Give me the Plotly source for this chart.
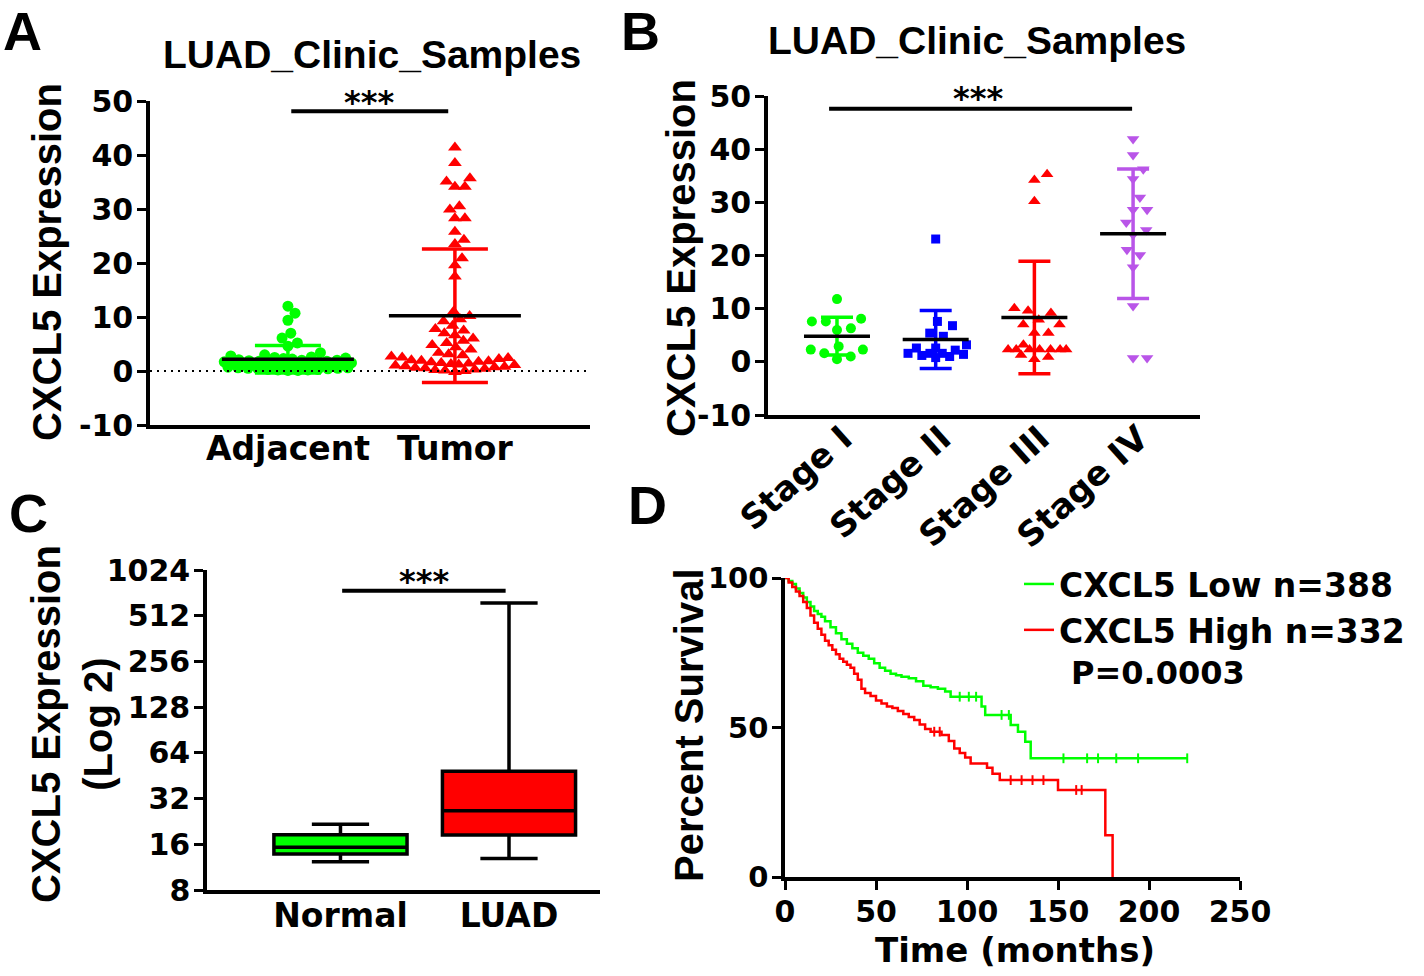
import math
import numpy as np
import plotly.graph_objects as go

# ---------------- data ----------------
# Panel A : CXCL5 expression, adjacent vs tumour
adjacent = [12.0, 10.7, 9.4, 7.0, 6.1, 5.2, 4.6, 3.4, 3.0, 2.8, 2.6, 2.5, 2.4, 2.3, 2.2,
            2.1, 2.0, 2.0, 1.9, 1.8, 1.8, 1.7, 1.6, 1.6, 1.5, 1.5, 1.4, 1.4, 1.3, 1.3,
            1.2, 1.2, 1.1, 1.1, 1.0, 1.0, 0.9, 0.9, 0.8, 0.8, 0.7, 0.7, 0.6, 0.6, 0.5,
            0.5, 0.4, 0.4, 0.3, 0.3, 0.2, 0.2, 0.1, 0.1]
tumor = [41.4, 38.5, 35.7, 35.1, 34.1, 34.1, 30.5, 29.9, 28.3, 28.3, 25.8, 24.3, 23.5,
         20.9, 19.6, 17.5,
         11.0, 10.2, 9.6, 9.2, 8.4, 7.8, 7.5, 7.0, 6.6, 6.0, 5.6, 5.2, 4.8, 4.4, 4.0,
         3.4, 3.1, 2.9, 2.7, 2.5, 2.4, 2.2, 2.0, 1.9, 1.8, 1.7, 1.6, 1.5, 1.4, 1.3,
         1.2, 1.1, 1.0, 0.9, 0.8, 0.7, 0.6, 0.5, 0.4, 0.3, 0.2, 0.1, 0.0, -0.2]
groups_a = ["Adjacent", "Tumor"]
ticks_lin = [-10, 0, 10, 20, 30, 40, 50]

# Panel B : expression by stage
stage_names = ["Stage I", "Stage II", "Stage III", "Stage IV"]
stage_1 = [11.8, 8.1, 7.6, 7.6, 6.3, 6.0, 2.9, 2.3, 2.3, 1.6, 1.0, 0.5]
stage_2 = [23.1, 7.6, 6.8, 5.4, 4.8, 3.2, 2.6, 2.6, 2.2, 1.6, 1.6, 1.6, 1.4, 1.2, 1.0, 0.8]
stage_3 = [35.3, 34.2, 30.2, 10.1, 9.6, 9.2, 7.9, 7.0, 7.0, 5.4, 5.4, 3.2, 2.3, 2.3, 2.3,
           2.3, 2.3, 2.3, 2.3, 1.3, 0.9, 0.5]
stage_4 = [41.9, 38.9, 36.2, 34.4, 30.9, 28.6, 28.6, 26.2, 24.8, 23.9, 21.1, 20.1, 17.8,
           10.5, 0.7, 0.7]

# Panel C : box plot summary (log2 axis)
groups_c = ["Normal", "LUAD"]
box_lowerfence = [12.3, 12.9]
box_q1 = [13.8, 18.4]
box_median = [15.3, 26.6]
box_q3 = [18.5, 48.5]
box_upperfence = [21.7, 622.0]
log2_ticks = [8, 16, 32, 64, 128, 256, 512, 1024]

# Panel D : Kaplan-Meier curves
km_low_t = [0, 2, 4, 6, 8, 10, 12, 14, 16, 18, 20, 22, 25, 28, 31, 34, 37, 40, 43, 46, 49,
            52, 55, 58, 61, 64, 68, 72, 76, 80, 84, 88, 91, 108, 110, 124, 128, 132, 135, 221]
km_low_s = [100, 99, 98, 96.5, 95, 93.5, 92, 90.5, 89, 88, 87, 85.5, 83.5, 81.5, 79.5, 78,
            76.5, 75, 74, 73, 71.5, 70, 69, 68, 67.5, 67, 66.5, 65.5, 64, 63.5, 63, 62, 60.3,
            57.0, 54.2, 50.8, 48.6, 45.2, 39.7, 39.7]
km_high_t = [0, 2, 4, 6, 8, 10, 12, 14, 16, 18, 20, 22, 24, 26, 28, 30, 32, 34, 36, 38, 40,
             42, 44, 47, 50, 53, 56, 59, 62, 65, 68, 71, 74, 77, 80, 86, 90, 93, 96, 99, 102,
             111, 114, 118, 150, 176, 180]
km_high_s = [100, 98.5, 97, 95.5, 94, 92, 90, 87.5, 85, 83, 81, 79, 77.5, 76, 74.5, 73, 72,
             71, 70, 68, 66, 63, 61.5, 60.5, 59, 58, 57, 56.5, 55.5, 54.5, 53.5, 52.5, 51,
             49.5, 48.6, 47.5, 45.5, 43, 41.5, 40, 38, 36.5, 34.5, 32.4, 29.1, 14.0, 0]
censor_low = [96, 101, 105, 119, 123, 153, 166, 172, 182, 194, 221]
censor_high = [82, 85, 124, 130, 136, 142, 160, 163]
km_names = ["CXCL5 Low n=388", "CXCL5 High n=332"]
p_text = "P=0.0003"

# ---------------- helpers ----------------
W, H = 1424, 976
GREEN, RED, BLUE, PURPLE = "#00FF00", "#FF0000", "#0000FF", "#B955E8"
FH = "DejaVu Sans"        # horizontal text
FV = "Liberation Sans"    # vertical text / titles


def xdom(a, b):
    return [a / W, b / W]


def ydom(top, bottom):
    return [1 - bottom / H, 1 - top / H]


def px(x):
    return x / W


def py(y):
    return 1 - y / H


def swarm_offsets(values, px_per_unit, diam, max_half):
    """Simple bee-swarm layout (pixel space) computed from the values."""
    vals = np.asarray(values, float)
    ys = vals * px_per_unit
    order = np.argsort(vals, kind="stable")
    placed = []
    offs = np.zeros(len(vals))
    for i in order:
        y = ys[i]
        chosen = None
        d = diam
        while chosen is None:
            cands = [0.0]
            for (qx, qy) in placed:
                dy = abs(y - qy)
                if dy < d:
                    dx = math.sqrt(d * d - dy * dy)
                    cands.extend([qx + dx, qx - dx])
            cands.sort(key=lambda c: (round(abs(c), 3), -c))
            for c in cands:
                if abs(c) > max_half:
                    continue
                if all((c - qx) ** 2 + (y - qy) ** 2 >= d * d - 0.05 for qx, qy in placed):
                    chosen = c
                    break
            d *= 0.92
        placed.append((chosen, y))
        offs[i] = chosen
    return offs


fig = go.Figure()

# ---------------- Panel A ----------------
A_XPX, A_YPX = 167.0, 5.4
for i, (vals, col, sym, sz) in enumerate([(adjacent, GREEN, "circle", 11),
                                          (tumor, RED, "triangle-up", 12)]):
    off = swarm_offsets(vals, A_YPX, 10, 64)
    fig.add_trace(go.Scatter(x=i + off / A_XPX, y=vals, mode="markers",
                             marker=dict(symbol=sym, size=sz, color=col, line=dict(width=0)),
                             xaxis="x", yaxis="y", showlegend=False, cliponaxis=False))
for i, (vals, col) in enumerate([(adjacent, GREEN), (tumor, RED)]):
    m, sd = float(np.mean(vals)), float(np.std(vals, ddof=1))
    fig.add_trace(go.Scatter(x=[i], y=[m], mode="markers", marker=dict(color="rgba(0,0,0,0)"),
                             error_y=dict(type="data", array=[sd], color=col, thickness=3.5, width=33),
                             xaxis="x", yaxis="y", showlegend=False, cliponaxis=False))
    fig.add_trace(go.Scatter(x=[i - 66 / A_XPX, i + 66 / A_XPX], y=[m, m], mode="lines",
                             line=dict(color="black", width=3.5),
                             xaxis="x", yaxis="y", showlegend=False, cliponaxis=False))

# ---------------- Panel B ----------------
B_XPX, B_YPX = 98.7, 5.32
stage_sets = [(stage_1, GREEN, "circle", 10), (stage_2, BLUE, "square", 9),
              (stage_3, RED, "triangle-up", 11), (stage_4, PURPLE, "triangle-down", 11)]
for i, (vals, col, sym, sz) in enumerate(stage_sets):
    off = swarm_offsets(vals, B_YPX, 14, 32)
    fig.add_trace(go.Scatter(x=i + off / B_XPX, y=vals, mode="markers",
                             marker=dict(symbol=sym, size=sz, color=col, line=dict(width=0)),
                             xaxis="x2", yaxis="y2", showlegend=False, cliponaxis=False))
for i, (vals, col, sym, sz) in enumerate(stage_sets):
    m, sd = float(np.mean(vals)), float(np.std(vals, ddof=1))
    fig.add_trace(go.Scatter(x=[i], y=[m], mode="markers", marker=dict(color="rgba(0,0,0,0)"),
                             error_y=dict(type="data", array=[sd], color=col, thickness=3.5, width=16),
                             xaxis="x2", yaxis="y2", showlegend=False, cliponaxis=False))
    fig.add_trace(go.Scatter(x=[i - 33 / B_XPX, i + 33 / B_XPX], y=[m, m], mode="lines",
                             line=dict(color="black", width=3.5),
                             xaxis="x2", yaxis="y2", showlegend=False, cliponaxis=False))

# ---------------- Panel C ----------------
for i, col in enumerate([GREEN, RED]):
    fig.add_trace(go.Box(x=[i], q1=[box_q1[i]], median=[box_median[i]], q3=[box_q3[i]],
                         lowerfence=[box_lowerfence[i]], upperfence=[box_upperfence[i]],
                         fillcolor=col, line=dict(color="black", width=3.5),
                         width=0.79, whiskerwidth=0.43, boxpoints=False,
                         xaxis="x3", yaxis="y3", showlegend=False, hoverinfo="skip"))

# ---------------- Panel D ----------------
for t, s, cens, col, name in [(km_low_t, km_low_s, censor_low, GREEN, km_names[0]),
                              (km_high_t, km_high_s, censor_high, RED, km_names[1])]:
    fig.add_trace(go.Scatter(x=t, y=s, mode="lines", line=dict(shape="hv", color=col, width=2.5),
                             name=name, xaxis="x4", yaxis="y4", cliponaxis=False))
    idx = np.searchsorted(np.asarray(t, float), np.asarray(cens, float), side="right") - 1
    cy = np.asarray(s, float)[idx]
    fig.add_trace(go.Scatter(x=cens, y=cy, mode="markers",
                             marker=dict(symbol="line-ns", size=7, color=col,
                                         line=dict(width=2, color=col)),
                             xaxis="x4", yaxis="y4", showlegend=False, cliponaxis=False))

# ---------------- axes ----------------
axline = dict(showline=True, linecolor="black", linewidth=3.5, showgrid=False, zeroline=False,
              mirror=False)
tickA = dict(ticks="outside", ticklen=9, tickwidth=3, tickcolor="black")
tf = dict(family=FH, size=30, color="black", weight="bold")
cf = dict(family=FH, size=33, color="black", weight="bold")
lin_text = [str(v) for v in ticks_lin]

layout = dict(
    width=W, height=H, margin=dict(l=0, r=0, t=0, b=0, autoexpand=False),
    paper_bgcolor="white", plot_bgcolor="white",
    font=dict(family=FH, color="black"),
    xaxis=dict(domain=xdom(150, 590), range=[-0.826, 1.809], tickvals=[0, 1],
               ticktext=groups_a, tickfont=cf, anchor="y", ticks="", ticklabelstandoff=-8,
               **axline),
    yaxis=dict(domain=ydom(101, 425), range=[-10, 50], tickvals=ticks_lin, ticktext=lin_text,
               tickfont=tf, anchor="x", ticklabelstandoff=-2, **axline, **tickA),
    xaxis2=dict(domain=xdom(768, 1200), range=[-0.699, 3.678], tickvals=[0, 1, 2, 3],
                ticktext=stage_names, tickangle=-42,
                tickfont=dict(family=FH, size=34, color="black", weight="bold"),
                ticklabelstandoff=-14, ticklabelshift=6,
                anchor="y2", ticks="", **axline),
    yaxis2=dict(domain=ydom(96, 415), range=[-10, 50], tickvals=ticks_lin, ticktext=lin_text,
                tickfont=tf, anchor="x2", ticklabelstandoff=-2, **axline, **tickA),
    xaxis3=dict(domain=xdom(207, 600), range=[-0.792, 1.54], tickvals=[0, 1],
                ticktext=groups_c, tickfont=cf, anchor="y3", ticks="", ticklabelstandoff=-6,
                **axline),
    yaxis3=dict(domain=ydom(570, 890), type="log", range=[math.log10(8), math.log10(1024)],
                tickvals=log2_ticks, ticktext=[str(v) for v in log2_ticks], tickfont=tf,
                anchor="x3", ticklabelstandoff=-2, **axline, **tickA),
    xaxis4=dict(domain=xdom(785, 1240), range=[0, 250], tickvals=list(range(0, 251, 50)),
                tickfont=tf, anchor="y4", ticklabelstandoff=-4, **axline, **tickA),
    yaxis4=dict(domain=ydom(578, 877), range=[0, 100], tickvals=[0, 50, 100],
                tickfont=dict(family=FH, size=29, color="black", weight="bold"),
                anchor="x4", ticklabelstandoff=-2, **axline, **tickA),
    legend=dict(x=px(1019), y=py(556), xanchor="left", yanchor="top",
                font=dict(family=FH, size=33, color="black", weight="bold"),
                bgcolor="rgba(0,0,0,0)", borderwidth=0, tracegroupgap=0),
    showlegend=True,
)
fig.update_layout(**layout)

# ---------------- shapes ----------------
shapes = [
    dict(type="line", xref="x domain", yref="y", x0=0, x1=1, y0=0, y1=0,
         line=dict(color="black", width=2, dash="2px,5px")),
    dict(type="line", xref="x", yref="y", x0=0.02, x1=0.96, y0=48.1, y1=48.1,
         line=dict(color="black", width=4)),
    dict(type="line", xref="x2", yref="y2", x0=-0.08, x1=2.99, y0=47.6, y1=47.6,
         line=dict(color="black", width=4)),
    dict(type="line", xref="x3", yref="y3", x0=0.01, x1=0.98, y0=748, y1=748,
         line=dict(color="black", width=4)),
]
fig.update_layout(shapes=shapes)

# ---------------- annotations ----------------
def ann(text, x, y, size, family=FH, angle=0, xanchor="center", yanchor="middle"):
    return dict(text=text, x=px(x), y=py(y), xref="paper", yref="paper", showarrow=False,
                textangle=angle, xanchor=xanchor, yanchor=yanchor, borderpad=0,
                font=dict(family=family, size=size, color="black", weight="bold"))

annotations = [
    ann("A", 22, 0, 54, FV, yanchor="top"), ann("B", 640, 0, 54, FV, yanchor="top"),
    ann("C", 28, 513, 54, FV), ann("D", 647, 505, 54, FV),
    ann("LUAD_Clinic_Samples", 372, 55, 39, FV),
    ann("LUAD_Clinic_Samples", 977, 40, 39, FV),
    ann("CXCL5 Expression", 47, 262, 40, FV, angle=-90),
    ann("CXCL5 Expression", 681, 258, 40, FV, angle=-90),
    ann("CXCL5 Expression<br>(Log 2)", 72, 724, 40, FV, angle=-90),
    ann("Percent Survival", 689, 725, 40, FV, angle=-90),
    ann("Time (months)", 1015, 950, 34),
    ann("***", 369, 102, 32), ann("***", 978, 98, 32), ann("***", 424, 581, 32),
    ann(p_text, 1070, 673, 32, xanchor="left"),
]
fig.update_layout(annotations=annotations)

fig.write_html("out.html", config={"displayModeBar": False},
               post_script="document.body.style.margin='0px';")
